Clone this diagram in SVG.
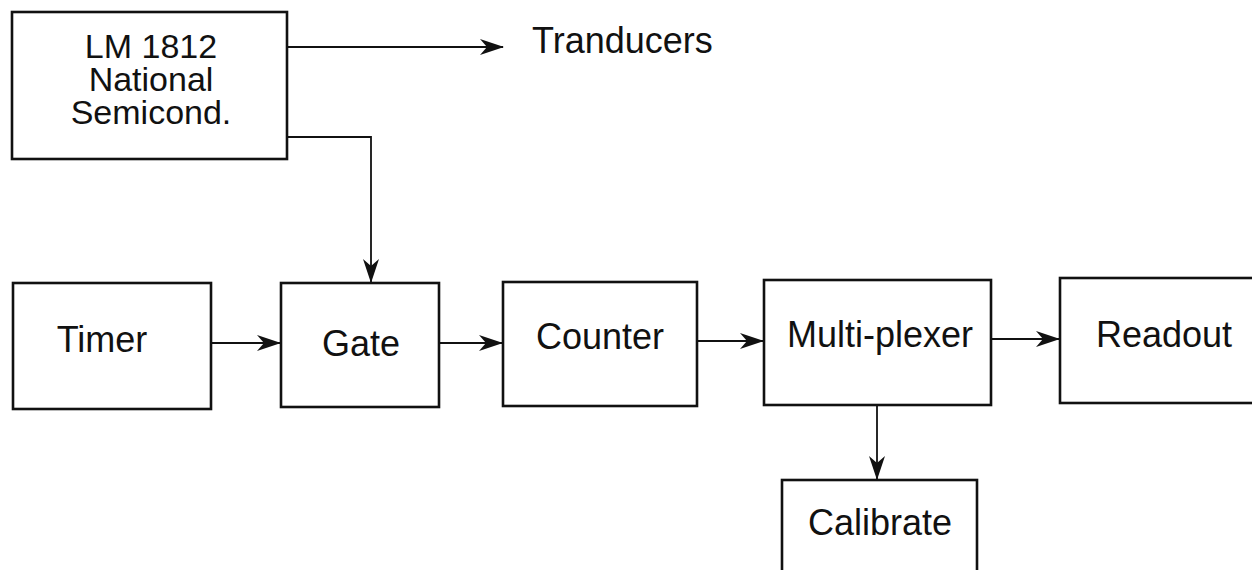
<svg xmlns="http://www.w3.org/2000/svg" width="1252" height="570" viewBox="0 0 1252 570">
<style>
.box{fill:#fff;stroke:#111;stroke-width:2.6}
.t{font-family:"Liberation Sans",Arial,sans-serif;font-size:36px;fill:#111;text-anchor:middle}
.c{fill:none;stroke:#111;stroke-width:1.8}
</style>
<defs>
<marker id="ah" viewBox="0 0 24 18" refX="23" refY="9" markerWidth="24" markerHeight="18" markerUnits="userSpaceOnUse" orient="auto">
<path d="M0,1 L24,9 L0,17 L7,9 z" fill="#111"/>
</marker>
</defs>
<rect width="1252" height="570" fill="#fff"/>
<g id="connectors">
<path class="c" d="M288,47 H503" marker-end="url(#ah)"/>
<path class="c" d="M288,137 H371 V282" marker-end="url(#ah)"/>
<path class="c" d="M212,343 H280" marker-end="url(#ah)"/>
<path class="c" d="M440,343 H502" marker-end="url(#ah)"/>
<path class="c" d="M697,341 H763" marker-end="url(#ah)"/>
<path class="c" d="M991,339 H1059" marker-end="url(#ah)"/>
<path class="c" d="M877,405 V479" marker-end="url(#ah)"/>
</g>
<g id="lm1812">
<rect class="box" x="12" y="12" width="275" height="147"/>
<text class="t" x="151" y="58" style="font-size:34px">LM 1812</text>
<text class="t" x="151" y="91" style="font-size:34px">National</text>
<text class="t" x="151" y="124" style="font-size:34px">Semicond.</text>
</g>
<g id="tranducers">
<text class="t" x="532" y="53" style="text-anchor:start">Tranducers</text>
</g>
<g id="timer">
<rect class="box" x="13" y="283" width="198" height="126"/>
<text class="t" x="102" y="352">Timer</text>
</g>
<g id="gate">
<rect class="box" x="281" y="283" width="158" height="124"/>
<text class="t" x="361" y="356">Gate</text>
</g>
<g id="counter">
<rect class="box" x="503" y="282" width="194" height="124"/>
<text class="t" x="600" y="349">Counter</text>
</g>
<g id="multiplexer">
<rect class="box" x="764" y="280" width="227" height="125"/>
<text class="t" x="880" y="347">Multi-plexer</text>
</g>
<g id="readout">
<rect class="box" x="1060" y="278" width="210" height="125"/>
<text class="t" x="1164" y="347">Readout</text>
</g>
<g id="calibrate">
<rect class="box" x="782" y="480" width="195" height="110"/>
<text class="t" x="880" y="535">Calibrate</text>
</g>
</svg>
